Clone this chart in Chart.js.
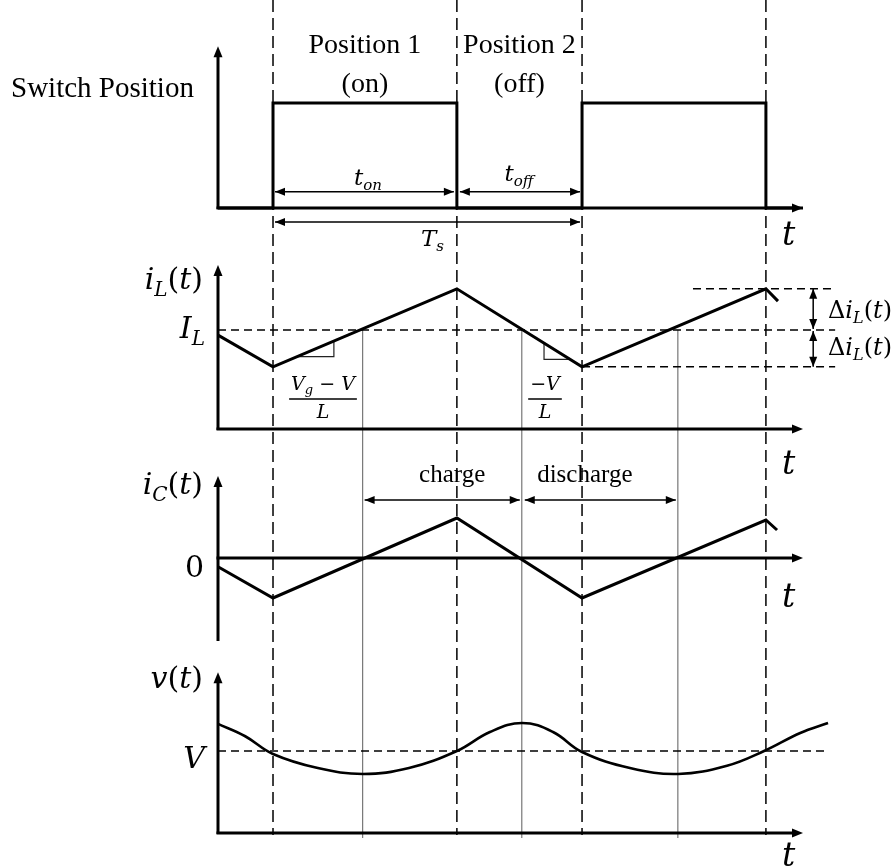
<!DOCTYPE html>
<html>
<head>
<meta charset="utf-8">
<title>Buck converter waveforms</title>
<script src="https://cdn.jsdelivr.net/npm/chart.js@4.4.0/dist/chart.umd.min.js"></script>
<style>
  html, body { margin: 0; padding: 0; background: #fff; }
  #wrap { width: 895px; height: 866px; }
</style>
</head>
<body>
<div id="wrap"><canvas id="waveChart" width="895" height="866"></canvas></div>
<script>
// time in units of one switching period Ts, switch turns on at t = 0
const tMin = -0.178;
const tMax = 1.715;
const edgeTimes = [0, 0.595, 1, 1.595];   // on, off, on, off
const crossTimes = [0.29, 0.805, 1.31];     // i_C crosses zero here

// switch position (1 = on)
const swTimes = [-0.178, 0, 0, 0.595, 0.595, 1, 1, 1.595, 1.595, 1.715];
const swValues = [0, 0, 1, 1, 0, 0, 1, 1, 0, 0];

// inductor current
const IL = 2.5;
const iLTimes = [-0.178, 0, 0.595, 1, 1.595, 1.634];
const iLValues = [2.37, 1.57, 3.54, 1.57, 3.54, 3.23];

// capacitor current
const iCTimes = [-0.178, 0, 0.595, 1, 1.595, 1.631];
const iCValues = [-0.22, -1.0, 1.0, -1.0, 0.95, 0.7];

// output voltage
const V = 5;
const vTimes = [-0.178, -0.09, 0, 0.145, 0.291, 0.44, 0.595, 0.702, 0.806,
                0.906, 1, 1.155, 1.311, 1.469, 1.589, 1.706, 1.796];
const vValues = [6.65, 5.9, 4.82, 3.96, 3.6, 3.96, 5.0, 6.16, 6.71,
                 6.16, 4.94, 3.96, 3.6, 4.1, 5.0, 6.1, 6.71];

const H = 866;
const MATH = "'DejaVu Serif'";
const TEXT = "'Liberation Serif'";

// each trace gets its own y scale spanning the whole canvas;
// value 0 lands on pixel row p0 and value v1 on row p1
function band(p0, p1, v1) {
  const k = (p0 - p1) / v1;
  return { min: -(H - p0) / k, max: p0 / k };
}

// axis extents for each trace, in that trace's own units
const panels = [
  { id: 'ySw', top: 1.54, bottom: 0, base: 0 },
  { id: 'yIL', top: 4.14, bottom: 0, base: 0 },
  { id: 'yIC', top: 2.05, bottom: -2.05, base: 0 },
  { id: 'yV', top: 9.8, bottom: 0, base: 0 }
];

function pts(ts, vs) {
  return ts.map((t, i) => ({ x: t, y: vs[i] }));
}

function valueAt(ts, vs, t) {
  for (let i = 1; i < ts.length; i++) {
    if (t <= ts[i]) {
      const f = (t - ts[i - 1]) / (ts[i] - ts[i - 1]);
      return vs[i - 1] + f * (vs[i] - vs[i - 1]);
    }
  }
  return vs[vs.length - 1];
}

function seg(ctx, x1, y1, x2, y2) {
  ctx.beginPath();
  ctx.moveTo(x1, y1);
  ctx.lineTo(x2, y2);
  ctx.stroke();
}

function head(ctx, x, y, ang, len, half) {
  ctx.beginPath();
  ctx.moveTo(x, y);
  ctx.lineTo(x - len * Math.cos(ang) + half * Math.sin(ang), y - len * Math.sin(ang) - half * Math.cos(ang));
  ctx.lineTo(x - len * Math.cos(ang) - half * Math.sin(ang), y - len * Math.sin(ang) + half * Math.cos(ang));
  ctx.closePath();
  ctx.fill();
}

// double headed dimension arrow
function dim(ctx, x1, y1, x2, y2) {
  const ang = Math.atan2(y2 - y1, x2 - x1);
  ctx.lineWidth = 1.5;
  seg(ctx, x1, y1, x2, y2);
  head(ctx, x2, y2, ang, 10, 4);
  head(ctx, x1, y1, ang + Math.PI, 10, 4);
}

// text with italic letters, roman symbols and italic subscripts
function drawMath(ctx, parts, x, y, size, align) {
  const fontFor = k => k === 'rm' ? `${size}px ${MATH}`
    : k === 'sub' ? `italic ${Math.round(size * 0.66)}px ${MATH}`
    : `italic ${size}px ${MATH}`;
  let w = 0;
  parts.forEach(([s, k]) => { ctx.font = fontFor(k); w += ctx.measureText(s).width; });
  let cx = align === 'right' ? x - w : align === 'center' ? x - w / 2 : x;
  ctx.textAlign = 'left';
  ctx.textBaseline = 'alphabetic';
  parts.forEach(([s, k]) => {
    ctx.font = fontFor(k);
    ctx.fillText(s, cx, y + (k === 'sub' ? size * 0.22 : 0));
    cx += ctx.measureText(s).width;
  });
  return w;
}

function drawFraction(ctx, num, den, cx, barY, size) {
  const w = drawMath(ctx, num, cx, barY - 9, size, 'center');
  ctx.lineWidth = 1.5;
  seg(ctx, cx - w / 2 - 2, barY, cx + w / 2 + 2, barY);
  drawMath(ctx, den, cx, barY + 19, size, 'center');
}

const paren = [['(', 'rm'], ['t', 'it'], [')', 'rm']];

// guide lines, slope markers and dimension arrows under the traces
const guides = {
  id: 'guides',
  beforeDatasetsDraw(chart) {
    const { ctx } = chart;
    const x = chart.scales.x;
    const sSw = chart.scales.ySw, sIL = chart.scales.yIL, sIC = chart.scales.yIC, sV = chart.scales.yV;
    const px = t => x.getPixelForValue(t);
    const bottom = sV.getPixelForValue(0) + 2;
    const ilY = sIL.getPixelForValue(IL);
    const peak = Math.max(...iLValues), valley = Math.min(...iLValues);
    ctx.save();
    ctx.strokeStyle = '#000';
    ctx.fillStyle = '#000';

    // thin lines where the ripple crosses its average
    ctx.strokeStyle = '#777';
    ctx.lineWidth = 1.2;
    crossTimes.forEach(t => seg(ctx, px(t), ilY, px(t), bottom + 3));

    // long dashed lines at the switching edges
    ctx.strokeStyle = '#000';
    ctx.lineWidth = 1.5;
    ctx.setLineDash([12, 6]);
    edgeTimes.forEach(t => seg(ctx, px(t), 0, px(t), bottom));

    // average and ripple levels
    ctx.setLineDash([8, 5]);
    ctx.lineWidth = 1.5;
    seg(ctx, px(tMin), ilY, px(1.819), ilY);
    seg(ctx, px(1.0), sIL.getPixelForValue(valley), px(1.819), sIL.getPixelForValue(valley));
    seg(ctx, px(1.359), sIL.getPixelForValue(peak), px(1.81), sIL.getPixelForValue(peak));
    const vY = sV.getPixelForValue(V);
    seg(ctx, px(tMin), vY, px(1.793), vY);
    ctx.setLineDash([]);

    // slope markers on the inductor current
    ctx.strokeStyle = '#222';
    ctx.lineWidth = 1.2;
    let a = 0.078, b = 0.197;
    let ya = sIL.getPixelForValue(valueAt(iLTimes, iLValues, a));
    let yb = sIL.getPixelForValue(valueAt(iLTimes, iLValues, b));
    ctx.beginPath();
    ctx.moveTo(px(a), ya);
    ctx.lineTo(px(b), ya);
    ctx.lineTo(px(b), yb);
    ctx.stroke();
    a = 0.877; b = 0.961;
    ya = sIL.getPixelForValue(valueAt(iLTimes, iLValues, a));
    yb = sIL.getPixelForValue(valueAt(iLTimes, iLValues, b));
    ctx.beginPath();
    ctx.moveTo(px(a), ya);
    ctx.lineTo(px(a), yb);
    ctx.lineTo(px(b), yb);
    ctx.stroke();

    // dimension arrows
    ctx.strokeStyle = '#000';
    const yOn = sSw.getPixelForValue(0.155);
    dim(ctx, px(edgeTimes[0]) + 2, yOn, px(edgeTimes[1]) - 3, yOn);
    dim(ctx, px(edgeTimes[1]) + 3, yOn, px(edgeTimes[2]) - 2, yOn);
    const yTs = sSw.getPixelForValue(-0.133);
    dim(ctx, px(edgeTimes[0]) + 2, yTs, px(edgeTimes[2]) - 2, yTs);
    const yCh = sIC.getPixelForValue(1.45);
    dim(ctx, px(crossTimes[0]) + 2, yCh, px(crossTimes[1]) - 2, yCh);
    dim(ctx, px(crossTimes[1]) + 3, yCh, px(crossTimes[2]) - 2, yCh);
    const xd = px(1.748);
    dim(ctx, xd, sIL.getPixelForValue(peak), xd, ilY - 1);
    dim(ctx, xd, ilY + 1, xd, sIL.getPixelForValue(valley));
    ctx.restore();
  }
};

// axes with arrow heads and all the labels on top
const axesAndLabels = {
  id: 'axesAndLabels',
  afterDatasetsDraw(chart) {
    const { ctx } = chart;
    const x = chart.scales.x;
    const px = t => x.getPixelForValue(t);
    const x0 = px(tMin), x1 = px(tMax);
    ctx.save();
    ctx.strokeStyle = '#000';
    ctx.fillStyle = '#000';
    ctx.lineCap = 'butt';
    panels.forEach(p => {
      const s = chart.scales[p.id];
      const yTop = s.getPixelForValue(p.top);
      const yBot = s.getPixelForValue(p.bottom);
      const yBase = s.getPixelForValue(p.base);
      ctx.lineWidth = 3;
      seg(ctx, x0, yBot + 1, x0, yTop + 9);
      head(ctx, x0, yTop, -Math.PI / 2, 11, 4.5);
      seg(ctx, x0 - 1.5, yBase, x1 - 9, yBase);
      head(ctx, x1, yBase, 0, 11, 4.5);
    });

    const sIL = chart.scales.yIL, sIC = chart.scales.yIC, sV = chart.scales.yV;

    // switch panel text
    ctx.textBaseline = 'alphabetic';
    ctx.font = `29px ${TEXT}`;
    ctx.textAlign = 'left';
    ctx.fillText('Switch Position', 11, 97);
    ctx.font = `28px ${TEXT}`;
    ctx.textAlign = 'center';
    const mOn = (px(edgeTimes[0]) + px(edgeTimes[1])) / 2;
    const mOff = (px(edgeTimes[1]) + px(edgeTimes[2])) / 2;
    ctx.fillText('Position 1', mOn, 53);
    ctx.fillText('(on)', mOn, 92);
    ctx.fillText('Position 2', mOff, 53);
    ctx.fillText('(off)', mOff, 92);

    drawMath(ctx, [['t', 'it'], ['on', 'sub']], 368, 185, 23, 'center');
    drawMath(ctx, [['t', 'it'], ['off', 'sub']], 519, 181, 23, 'center');
    drawMath(ctx, [['T', 'it'], ['s', 'sub']], 421, 246, 23, 'left');

    // axis names and levels
    drawMath(ctx, [['i', 'it'], ['L', 'sub']].concat(paren), 203, 289, 30, 'right');
    drawMath(ctx, [['I', 'it'], ['L', 'sub']], 205, sIL.getPixelForValue(IL) + 8, 30, 'right');
    drawMath(ctx, [['i', 'it'], ['C', 'sub']].concat(paren), 203, 494, 30, 'right');
    drawMath(ctx, [['0', 'rm']], 204, sIC.getPixelForValue(0) + 19, 30, 'right');
    drawMath(ctx, [['v', 'it']].concat(paren), 203, 688, 30, 'right');
    drawMath(ctx, [['V', 'it']], 205, sV.getPixelForValue(V) + 17, 30, 'right');

    // time labels at the end of each horizontal axis
    const tX = 782;
    drawMath(ctx, [['t', 'it']], tX, 245, 33, 'left');
    drawMath(ctx, [['t', 'it']], tX, 474, 33, 'left');
    drawMath(ctx, [['t', 'it']], tX, 607, 33, 'left');
    drawMath(ctx, [['t', 'it']], tX, 866, 33, 'left');

    // ripple labels
    drawMath(ctx, [['Δ', 'rm'], ['i', 'it'], ['L', 'sub']].concat(paren), 828, 318, 24, 'left');
    drawMath(ctx, [['Δ', 'rm'], ['i', 'it'], ['L', 'sub']].concat(paren), 828, 355, 24, 'left');

    // slopes
    drawFraction(ctx, [['V', 'it'], ['g', 'sub'], [' − ', 'rm'], ['V', 'it']], [['L', 'it']], 323, 399, 19);
    drawFraction(ctx, [['−', 'rm'], ['V', 'it']], [['L', 'it']], 545, 399, 19);

    // charge / discharge
    ctx.font = `25px ${TEXT}`;
    ctx.textAlign = 'center';
    ctx.fillText('charge', (px(crossTimes[0]) + px(crossTimes[1])) / 2 + 10, 482);
    ctx.fillText('discharge', (px(crossTimes[1]) + px(crossTimes[2])) / 2 - 15, 482);
    ctx.restore();
  }
};

const trace = {
  borderColor: '#000',
  borderWidth: 3,
  pointRadius: 0,
  tension: 0,
  fill: false,
  clip: false
};

const ctx = document.getElementById('waveChart').getContext('2d');
const chart = new Chart(ctx, {
  type: 'line',
  data: {
    datasets: [
      Object.assign({ label: 'switch', data: pts(swTimes, swValues), yAxisID: 'ySw', borderJoinStyle: 'miter' }, trace),
      Object.assign({ label: 'iL', data: pts(iLTimes, iLValues), yAxisID: 'yIL' }, trace),
      Object.assign({ label: 'iC', data: pts(iCTimes, iCValues), yAxisID: 'yIC' }, trace),
      Object.assign({ label: 'v', data: pts(vTimes, vValues), yAxisID: 'yV' }, trace,
        { borderWidth: 2.6, tension: 0.4 })
    ]
  },
  options: {
    responsive: false,
    animation: false,
    events: [],
    layout: { padding: { left: 218, right: 92, top: 0, bottom: 0 } },
    plugins: { legend: { display: false }, tooltip: { enabled: false } },
    scales: {
      x: { type: 'linear', min: tMin, max: tMax, display: false },
      ySw: Object.assign({ type: 'linear', display: false }, band(208, 103, 1)),
      yIL: Object.assign({ type: 'linear', display: false }, band(429, 330, IL)),
      yIC: Object.assign({ type: 'linear', display: false }, band(558, 518, 1)),
      yV: Object.assign({ type: 'linear', display: false }, band(833, 751, V))
    }
  },
  plugins: [guides, axesAndLabels]
});
</script>
</body>
</html>
